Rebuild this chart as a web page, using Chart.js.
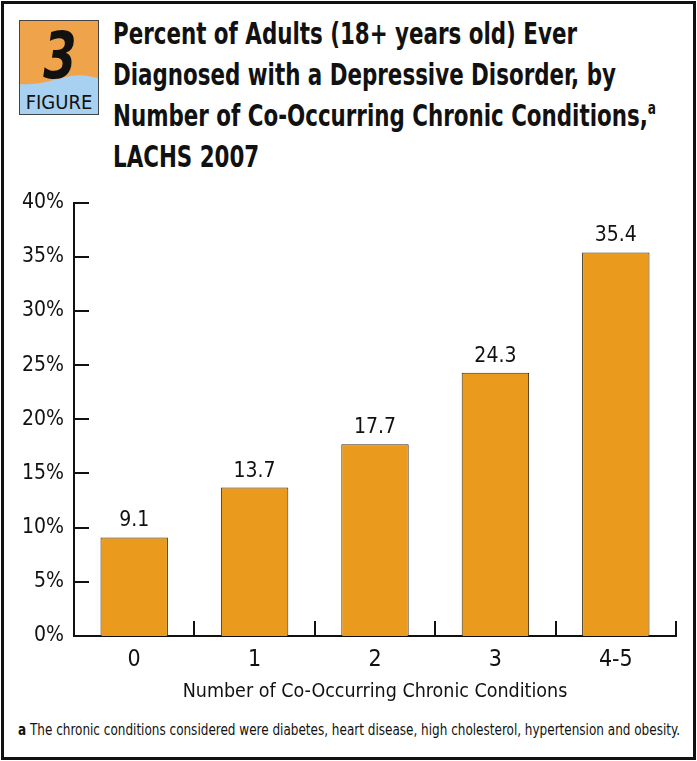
<!DOCTYPE html>
<html>
<head>
<meta charset="utf-8">
<script src="https://cdn.jsdelivr.net/npm/chart.js@4"></script>
<style>
  body { margin: 0; background: #fff; }
  #page { position: relative; width: 697px; height: 761px; overflow: hidden;
    font-family: "DejaVu Sans Condensed", "Liberation Sans Narrow", sans-serif; }
  #frame { position: absolute; left: 1px; top: 1px; width: 689px; height: 753px; border: 3px solid #111; }
  #badge { position: absolute; left: 19px; top: 20px; }
  #title { position: absolute; left: 113px; top: 13px; font-weight: bold; font-size: 30px;
    line-height: 41px; color: #111; white-space: nowrap; transform-origin: left top; }
  #title sup { font-size: 17px; vertical-align: 12px; line-height: 0; }
  #chartBox { position: absolute; left: 0; top: 180px; width: 697px; height: 530px; }
  #note { position: absolute; left: 18px; top: 720px; font-size: 16px; color: #111; white-space: nowrap;
    transform-origin: left top; }
</style>
</head>
<body>
<div id="page">
  <div id="frame"></div>
  <svg id="badge" width="80" height="95" viewBox="0 0 80 95">
    <rect x="0.5" y="0.5" width="79" height="94" fill="#EFA44C"/>
    <path d="M1,64 C18,66 36,59 52,56 C64,54 72,57 79,58 L79,94 L1,94 Z" fill="#A8D0F0"/>
    <rect x="0.5" y="0.5" width="79" height="94" fill="none" stroke="#444"/>
    <text transform="translate(41,58) scale(0.75,1)" text-anchor="middle" font-family="DejaVu Sans" font-weight="bold" font-style="italic" font-size="64" fill="#111">3</text>
    <text x="40" y="89" text-anchor="middle" font-family="DejaVu Sans Condensed, sans-serif" font-size="20" fill="#111">FIGURE</text>
  </svg>
  <div id="title">Percent of Adults (18+ years old) Ever<br>Diagnosed with a Depressive Disorder, by<br>Number of Co-Occurring Chronic Conditions,<sup>a</sup><br>LACHS 2007</div>
  <div id="chartBox"><canvas id="chart"></canvas></div>
  <div id="note"><b>a</b> The chronic conditions considered were diabetes, heart disease, high cholesterol, hypertension and obesity.</div>
</div>
<script>
const categories = ["0", "1", "2", "3", "4-5"];
const percentValues = [9.1, 13.7, 17.7, 24.3, 35.4];
const yTicks = [0, 5, 10, 15, 20, 25, 30, 35, 40];

const fontFamily = '"DejaVu Sans Condensed", "Liberation Sans Narrow", sans-serif';

// squeeze a text block horizontally to the width it has in the print
function fitWidth(id, target) {
  const el = document.getElementById(id);
  const w = el.getBoundingClientRect().width;
  el.style.transform = "scaleX(" + target / w + ")";
}
fitWidth("title", 543);
fitWidth("note", 662);

// inward tick marks on both axes
const innerTicks = {
  id: "innerTicks",
  afterDraw(chart) {
    const ctx = chart.ctx;
    const x = chart.scales.x, y = chart.scales.y;
    ctx.save();
    ctx.strokeStyle = "#111";
    ctx.lineWidth = 2;
    ctx.beginPath();
    yTicks.forEach((v) => {
      const py = Math.round(y.getPixelForValue(v));
      ctx.moveTo(x.left, py);
      ctx.lineTo(x.left + 15, py);
    });
    for (let i = 1; i <= categories.length; i++) {
      const px = Math.round(x.getPixelForValue(i - 0.5));
      ctx.moveTo(px, y.bottom);
      ctx.lineTo(px, y.bottom - 15);
    }
    ctx.stroke();
    ctx.restore();
  },
};

// value labels above each bar
const barValues = {
  id: "barValues",
  afterDatasetsDraw(chart) {
    const ctx = chart.ctx;
    const meta = chart.getDatasetMeta(0);
    ctx.save();
    ctx.fillStyle = "#111";
    ctx.font = "21px " + fontFamily;
    ctx.textAlign = "center";
    ctx.textBaseline = "bottom";
    meta.data.forEach((bar, i) => {
      ctx.fillText(percentValues[i].toFixed(1), bar.x, bar.y - 6);
    });
    ctx.restore();
  },
};

new Chart(document.getElementById("chart"), {
  type: "bar",
  plugins: [innerTicks, barValues],
  data: {
    labels: categories,
    datasets: [
      {
        data: percentValues,
        backgroundColor: "#EA9B1E",
        borderColor: "#3b2a12",
        borderWidth: 1,
        categoryPercentage: 0.56,
        barPercentage: 1,
      },
    ],
  },
  options: {
    responsive: true,
    maintainAspectRatio: false,
    animation: false,
    layout: { padding: { top: 20, right: 21, left: 0, bottom: 0 } },
    plugins: { legend: { display: false }, tooltip: { enabled: false } },
    scales: {
      y: {
        min: 0,
        max: 40,
        afterFit: (s) => { s.width = 74; },
        afterBuildTicks: (s) => { s.ticks = yTicks.map((v) => ({ value: v })); },
        border: { display: true, color: "#111", width: 2 },
        grid: { display: false, drawTicks: false },
        ticks: {
          padding: 10,
          color: "#111",
          font: { family: fontFamily, size: 21 },
          callback: (v) => v + "%",
        },
      },
      x: {
        afterFit: (s) => { s.height = 74; },
        border: { display: true, color: "#111", width: 2 },
        grid: { display: false, drawTicks: false },
        ticks: { padding: 10, color: "#111", font: { family: fontFamily, size: 23 } },
        title: {
          display: true,
          text: "Number of Co-Occurring Chronic Conditions",
          color: "#111",
          font: { family: fontFamily, size: 19.5 },
          padding: { top: 0, bottom: 6 },
        },
      },
    },
  },
});
</script>
</body>
</html>
